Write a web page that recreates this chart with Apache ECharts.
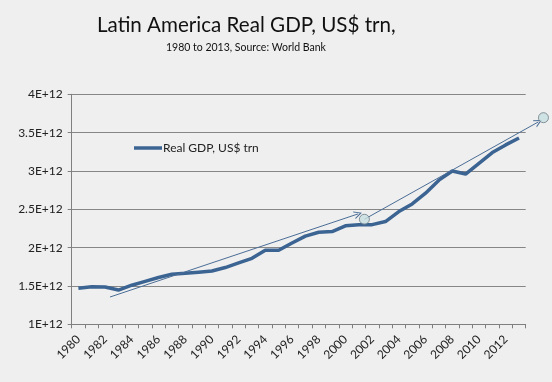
<!DOCTYPE html>
<html>
<head>
<meta charset="utf-8">
<script src="https://cdn.jsdelivr.net/npm/echarts@6/dist/echarts.min.js"></script>
<style>
html,body{margin:0;padding:0;background:#efefef;}
#c{width:552px;height:382px;}
</style>
</head>
<body>
<div id="c"></div>
<script>
const years = ['1980','1981','1982','1983','1984','1985','1986','1987','1988','1989','1990','1991','1992','1993','1994','1995','1996','1997','1998','1999','2000','2001','2002','2003','2004','2005','2006','2007','2008','2009','2010','2011','2012','2013'];
const gdp = [1.47e12,1.49e12,1.487e12,1.447e12,1.51e12,1.56e12,1.61e12,1.652e12,1.665e12,1.68e12,1.695e12,1.74e12,1.80e12,1.86e12,1.965e12,1.965e12,2.06e12,2.15e12,2.20e12,2.21e12,2.285e12,2.30e12,2.30e12,2.34e12,2.47e12,2.57e12,2.71e12,2.88e12,3.0e12,2.96e12,3.1e12,3.24e12,3.34e12,3.43e12];
const trendA = [[1982.37,1.356e12],[2000.95,2.44e12]];
const trendB = [[2001.42,2.37e12],[2014.45,3.64e12]];
const markers = [[2001.42,2.37e12],[2014.83,3.695e12]];
const yTicks = {min:1e12, max:4e12, step:0.5e12};

// layout of main plot
const G = {left:71.7, right:26.3, top:94.3, bottom:57.7, w:552, h:382};
const plotW = G.w - G.left - G.right, plotH = G.h - G.top - G.bottom;
const pxPerYear = plotW / years.length;
const pxPerUnit = plotH / (yTicks.max - yTicks.min);
// overlay grid: same scale, extended to right edge and upward
const extTop = 20;
const ovXMin = +years[0] - 0.5;
const ovXMax = ovXMin + (G.w - G.left) / pxPerYear;
const ovYMax = yTicks.max + extTop / pxPerUnit;

const chevron = 'path://M0,10 L5,0 L10,10 L8.6,10 L5,2.8 L1.4,10 Z';
const chart = echarts.init(document.getElementById('c'));
chart.setOption({
  backgroundColor:'#efefef',
  animation:false,
  textStyle:{fontFamily:'Lato'},
  title:[
    {text:'Latin America Real GDP, US$ trn,', left:92, top:10, textStyle:{fontSize:20.6, fontWeight:'normal', color:'#111', fontFamily:'Lato'}},
    {text:'1980 to 2013, Source: World Bank', left:161, top:37, textStyle:{fontSize:10.5, fontWeight:'normal', color:'#111', fontFamily:'Lato'}}
  ],
  legend:{
    data:['Real GDP, US$ trn'], left:129, top:137, icon:'rect', itemWidth:28, itemHeight:3.5,
    textStyle:{fontSize:12, color:'#222', fontFamily:'Lato', padding:[0,0,0,-4]}
  },
  grid:[
    {left:G.left, right:G.right, top:G.top, bottom:G.bottom, containLabel:false},
    {left:G.left, right:0, top:G.top - extTop, bottom:G.bottom, containLabel:false}
  ],
  xAxis:[{
    type:'category', data:years, boundaryGap:true, gridIndex:0,
    axisLine:{lineStyle:{color:'#7f7f7f', width:1}},
    axisTick:{show:true, interval:0, length:4, lineStyle:{color:'#7f7f7f'}},
    axisLabel:{interval:1, rotate:45, fontSize:12, color:'#222', margin:13, fontFamily:'Lato'},
    splitLine:{show:false}
  },{
    type:'value', gridIndex:1, min:ovXMin, max:ovXMax, show:false
  }],
  yAxis:[{
    type:'value', gridIndex:0, min:yTicks.min, max:yTicks.max, interval:yTicks.step,
    axisLine:{show:true, lineStyle:{color:'#7f7f7f'}},
    axisTick:{show:true, length:4, lineStyle:{color:'#7f7f7f'}},
    axisLabel:{fontSize:12, color:'#222', margin:9, fontFamily:'Lato', formatter:v=>(v/1e12)+'E+12'},
    splitLine:{show:true, lineStyle:{color:'#868686', width:1}}
  },{
    type:'value', gridIndex:1, min:yTicks.min, max:ovYMax, show:false, splitLine:{show:false}
  }],
  series:[{
    name:'Real GDP, US$ trn', type:'line', data:gdp, showSymbol:false, symbol:'none',
    lineStyle:{color:'#3b6493', width:3.5}, itemStyle:{color:'#3b6493'}, z:3
  },{
    type:'scatter', xAxisIndex:1, yAxisIndex:1, data:markers, symbol:'circle', symbolSize:10, clip:false, silent:true,
    itemStyle:{color:'#c8e0e1', borderColor:'#6b7b84', borderWidth:1}, z:5,
    markLine:{
      silent:true, symbol:['none', chevron], symbolSize:[8,8],
      label:{show:false},
      lineStyle:{color:'#4a6d96', width:1, type:'solid'},
      data:[
        [{coord:trendA[0]},{coord:trendA[1]}],
        [{coord:trendB[0]},{coord:trendB[1]}]
      ]
    }
  }]
});
</script>
</body>
</html>
